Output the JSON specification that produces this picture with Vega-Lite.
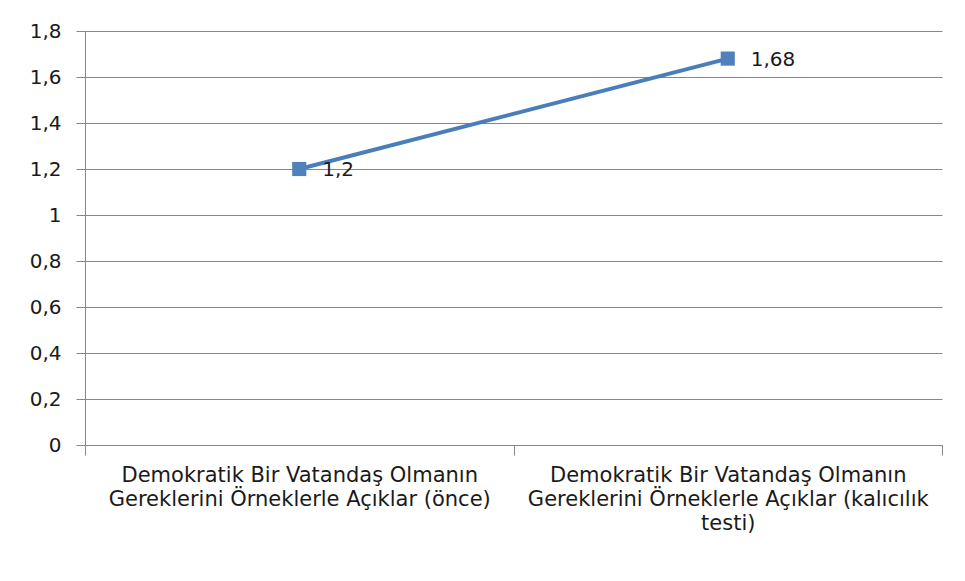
{
  "$schema": "https://vega.github.io/schema/vega-lite/v6.json",
  "width": 857,
  "height": 414,
  "autosize": {"type": "none"},
  "padding": {"left": 85, "top": 31, "right": 23, "bottom": 136},
  "background": "white",
  "config": {
    "locale": {"number": {"decimal": ",", "thousands": ".", "grouping": [3], "currency": ["", " TL"]}},
    "view": {"stroke": null},
    "font": "DejaVu Sans"
  },
  "data": {
    "values": [
      {"kategori": "Demokratik Bir Vatandaş Olmanın|Gereklerini Örneklerle Açıklar (önce)", "deger": 1.2},
      {"kategori": "Demokratik Bir Vatandaş Olmanın|Gereklerini Örneklerle Açıklar (kalıcılık|testi)", "deger": 1.68}
    ]
  },
  "encoding": {
    "x": {
      "field": "kategori",
      "type": "nominal",
      "sort": null,
      "scale": {"paddingInner": 0, "paddingOuter": 0},
      "axis": {
        "title": null,
        "labelAngle": 0,
        "labelExpr": "split(datum.label, '|')",
        "labelFont": "DejaVu Sans",
        "labelFontSize": 21,
        "labelColor": "#1a1a1a",
        "labelLineHeight": 24,
        "labelPadding": 9,
        "labelLimit": 500,
        "bandPosition": 0,
        "tickBand": "extent",
        "tickSize": 10,
        "tickColor": "#868686",
        "domainColor": "#868686",
        "grid": false
      }
    },
    "y": {
      "field": "deger",
      "type": "quantitative",
      "scale": {"domain": [0, 1.8], "nice": false},
      "axis": {
        "title": null,
        "values": [0, 0.2, 0.4, 0.6, 0.8, 1, 1.2, 1.4, 1.6, 1.8],
        "format": "~g",
        "labelFont": "DejaVu Sans",
        "labelFontSize": 20,
        "labelColor": "#1a1a1a",
        "labelPadding": 15,
        "tickSize": 9,
        "tickColor": "#868686",
        "domainColor": "#868686",
        "gridColor": "#868686",
        "gridWidth": 1
      }
    }
  },
  "layer": [
    {
      "mark": {"type": "line", "color": "#4A7EBB", "strokeWidth": 4},
      "encoding": {}
    },
    {
      "mark": {"type": "point", "shape": "square", "filled": true, "size": 200, "color": "#4F81BD", "opacity": 1}
    },
    {
      "mark": {"type": "text", "align": "left", "baseline": "middle", "dx": 23, "dy": 1, "font": "DejaVu Sans", "fontSize": 20, "color": "#1a1a1a"},
      "encoding": {"text": {"field": "deger", "type": "quantitative", "format": "~g"}}
    }
  ]
}
